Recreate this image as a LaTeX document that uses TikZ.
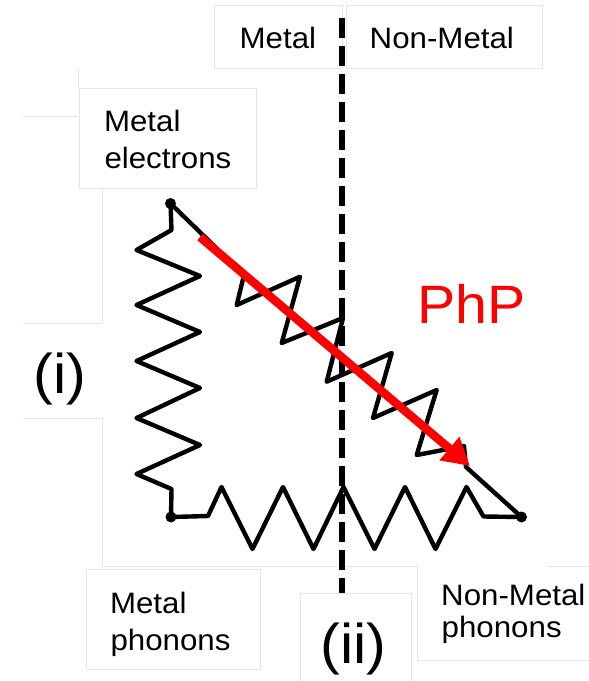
\documentclass[tikz,border=0pt]{standalone}
\usepackage{fontspec}
\setmainfont{Liberation Sans}[FakeStretch=1.06]
\usetikzlibrary{arrows.meta}
\begin{document}
\begin{tikzpicture}[x=1pt,y=-1pt,
  lbl/.style={inner sep=0pt, anchor=base west, font=\fontsize{29.5}{35}\selectfont},
  big/.style={inner sep=0pt, anchor=base, font=\fontsize{56}{60}\selectfont},
  faint/.style={draw=black!10, line width=1pt},
  spring/.style={line width=4.4pt, line join=round, line cap=round},
  dot/.style={circle, fill=black, inner sep=0pt, minimum size=11pt},
  divider/.style={line width=6.5pt, dash pattern=on 20pt off 8pt},
  php/.style={draw=red, line width=8.5pt, -{Triangle[length=27pt,width=29pt]}}
]
\useasboundingbox (0,0) rectangle (589,681);

% faint panel edges
\draw[faint] (214,5) rectangle (342.5,68);
\draw[faint] (346,5) rectangle (542.5,68);
\draw[faint] (79,88) rectangle (256.5,188);
\draw[faint] (22.5,116) -- (78,116);
\draw[faint] (78,69) -- (78,88);
\draw[faint] (23,323) -- (102,323);
\draw[faint] (23,418) -- (102,418);
\draw[faint] (102,190) -- (102,323);
\draw[faint] (102,418) -- (102,566);
\draw[faint] (102,566) -- (417,566);
\draw[faint] (547,566) -- (595,566);
\draw[faint] (86.5,569) rectangle (260,669);
\draw[faint] (300.5,593) rectangle (411.5,690);
\draw[faint] (417,566) -- (417,660) -- (595,660);

% dashed divider
\coordinate (dtop) at (342,18);
\coordinate (dbot) at (342,593);
\draw[divider] (dtop) -- (dbot);

% nodes
\node[dot] (e) at (170.5,203.5) {};
\node[dot] (mp) at (171,517) {};
\node[dot] (np) at (521.5,517) {};

% springs
\draw[spring] (e.center) -- (171.5,230) -- (136.5,250) -- (200,276) -- (136.5,305) -- (200,332)
  -- (136.5,361) -- (200,388) -- (136.5,418) -- (200,445) -- (136.5,474) -- (171.5,489) -- (mp.center);
\draw[spring] (mp.center) -- (208,516) -- (221.5,487) -- (252.5,549) -- (283,487) -- (313.5,549)
  -- (343.5,487) -- (374.5,549) -- (405,487) -- (435.5,549) -- (466.5,487) -- (483.5,516.5) -- (np.center);
\draw[spring] (e.center) -- (244,275) -- (236.7,305) -- (300,276.7) -- (281.7,343) -- (343,318)
  -- (326.7,381.7) -- (391.7,353) -- (373,418) -- (436.7,390) -- (416.7,455) -- (464,446)
  -- (466,467) -- (np.center);

% red arrow
\coordinate (as) at (200,237);
\coordinate (ae) at (470,466);
\draw[php] (as) -- (ae);

% labels
\node[lbl] (tm) at (239.5,48.3) {Metal};
\node[lbl] (tn) at (369.5,48.3) {Non-Metal};
\node[lbl] (me1) at (103.8,131.7) {Metal};
\node[lbl] (me2) at (104.3,168.3) {electrons};
\node[lbl] (mph1) at (109.8,613) {Metal};
\node[lbl] (mph2) at (110.3,650) {phonons};
\node[lbl] (nph1) at (441,605) {Non-Metal};
\node[lbl] (nph2) at (441.5,637) {phonons};
\node[big] (i) at (60,393.2) {(i)};
\node[big] (ii) at (353.3,663.2) {(ii)};
\node[lbl, text=red, font=\fontsize{54}{60}\selectfont] (phptext) at (417.4,323) {PhP};
\end{tikzpicture}
\end{document}
